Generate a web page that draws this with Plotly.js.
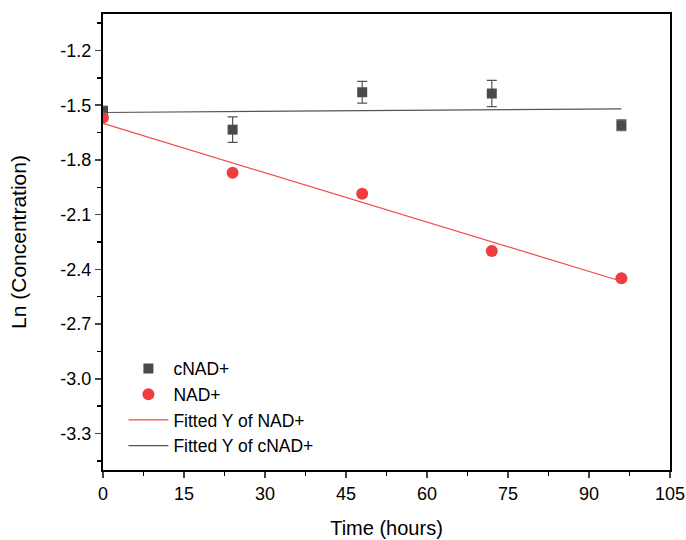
<!DOCTYPE html>
<html><head><meta charset="utf-8">
<script src="https://cdn.plot.ly/plotly-3.0.1.min.js"></script>
<style>html,body{margin:0;padding:0;background:#fff}#chart{width:686px;height:540px}</style>
</head><body><div id="chart"></div>
<script>
const timeHours = [0, 24, 48, 72, 96];
const cNAD = [-1.53, -1.634, -1.429, -1.436, -1.61];
const cNADErr = [0.02, 0.07, 0.06, 0.072, 0.03];
const NAD = [-1.568, -1.87, -1.986, -2.299, -2.449];
const fitX = [0, 96];
const fitNAD = [-1.60, -2.465];
const fitCNAD = [-1.54, -1.52];
const yTicks = [-3.3, -3.0, -2.7, -2.4, -2.1, -1.8, -1.5, -1.2];
const yTickText = ["-3.3", "-3.0", "-2.7", "-2.4", "-2.1", "-1.8", "-1.5", "-1.2"];
const yMinorTicks = [-3.45, -3.15, -2.85, -2.55, -2.25, -1.95, -1.65, -1.35, -1.05];
const xTicks = [0, 15, 30, 45, 60, 75, 90, 105];

const traces = [
  {x: timeHours, y: cNAD, name: 'cNAD+', type: 'scatter', mode: 'markers',
   marker: {symbol: 'square', size: 10, color: '#4a4a4a'},
   error_y: {type: 'data', array: cNADErr, visible: true, color: '#555', thickness: 1.2, width: 5}},
  {x: timeHours, y: NAD, name: 'NAD+', type: 'scatter', mode: 'markers',
   marker: {symbol: 'circle', size: 12, color: '#f03c3c'}},
  {x: fitX, y: fitNAD, name: 'Fitted Y of NAD+', type: 'scatter', mode: 'lines',
   line: {color: '#f44a4a', width: 1.2}},
  {x: fitX, y: fitCNAD, name: 'Fitted Y of cNAD+', type: 'scatter', mode: 'lines',
   line: {color: '#555555', width: 1.2}}
];

const font = {family: 'Liberation Sans, Arial, sans-serif', color: '#000'};
const layout = {
  width: 686, height: 540,
  margin: {l: 103, r: 16, t: 14, b: 70},
  paper_bgcolor: '#fff', plot_bgcolor: '#fff',
  font: Object.assign({size: 18}, font),
  showlegend: true,
  legend: {x: 0.036, y: 0.262, xanchor: 'left', yanchor: 'top', bgcolor: 'rgba(0,0,0,0)',
           font: Object.assign({size: 17.5}, font), tracegroupgap: 0, itemwidth: 40},
  xaxis: {range: [0, 105], tickvals: xTicks, ticks: 'outside', ticklen: 6, tickwidth: 1.5,
          showline: true, linewidth: 2, linecolor: '#000', mirror: true, showgrid: false, zeroline: false,
          minor: {dtick: 7.5, ticks: 'outside', ticklen: 4, tickwidth: 1.5, tickcolor: '#000', showgrid: false},
          tickfont: Object.assign({size: 18}, font),
          title: {text: 'Time (hours)', font: Object.assign({size: 20}, font), standoff: 18}},
  yaxis: {range: [-3.5, -1.0], tickvals: yTicks, ticktext: yTickText, ticks: 'outside', ticklen: 6, tickwidth: 1.5,
          showline: true, linewidth: 2, linecolor: '#000', mirror: true, showgrid: false, zeroline: false,
          minor: {tickvals: yMinorTicks, ticks: 'outside', ticklen: 4, tickwidth: 1.5, tickcolor: '#000', showgrid: false},
          tickfont: Object.assign({size: 18}, font),
          title: {text: 'Ln (Concentration)', font: Object.assign({size: 21}, font), standoff: 28}}
};
Plotly.newPlot('chart', traces, layout, {displayModeBar: false, staticPlot: true});
</script></body></html>
